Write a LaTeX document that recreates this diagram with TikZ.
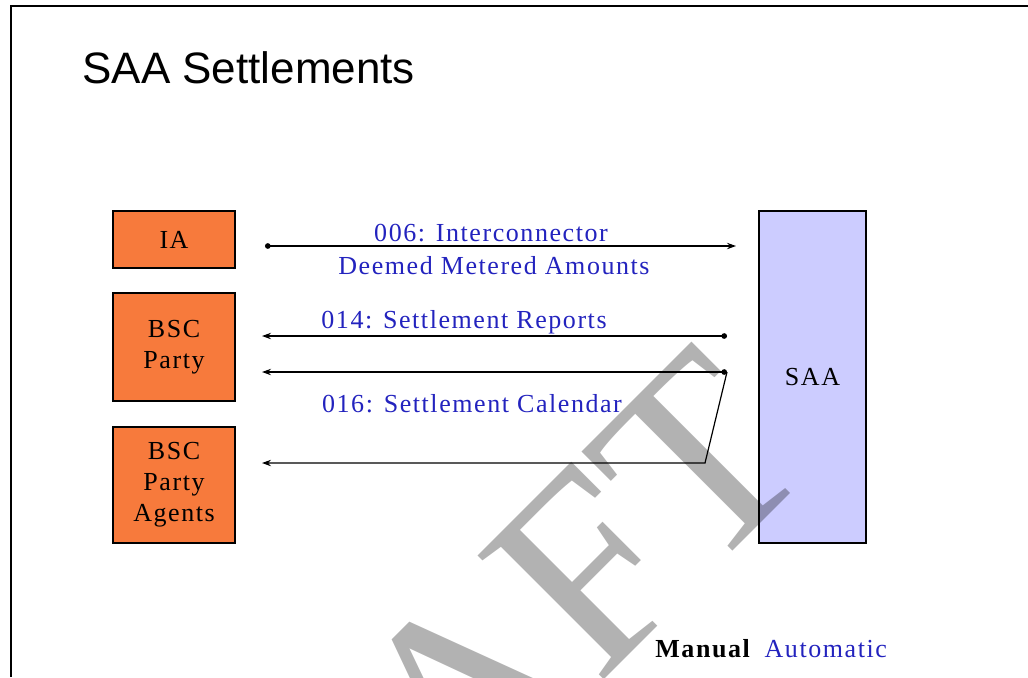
\documentclass[tikz,border=0pt]{standalone}
\usepackage{fontspec}
\setmainfont{Liberation Serif}[LetterSpace=6]
\newfontfamily\titlefont{Liberation Sans}
\newfontfamily\markfont{Liberation Serif}
\usepackage{xcolor}
\usetikzlibrary{positioning,arrows.meta}
\definecolor{partyorange}{RGB}{247,122,60}
\definecolor{saalilac}{RGB}{204,204,255}
\definecolor{flowblue}{RGB}{35,35,190}

\begin{document}
\begin{tikzpicture}[x=0.5pt, y=-0.5pt, >={Stealth[length=4.5pt,width=3.2pt]},
  box/.style={draw, line width=0.75pt, align=center, inner sep=0pt,
    font=\fontsize{13}{15.5}\selectfont},
  party/.style={box, fill=partyorange, minimum width=61pt},
  flow/.style={line width=0.6pt},
  flow label/.style={anchor=base, inner sep=0pt, text=flowblue,
    font=\fontsize{13}{15.5}\selectfont}]

\useasboundingbox (0,0) rectangle (1028,677);
\clip (0,0) rectangle (1028,677);

% frame and title
\draw [line width=1.25pt] (11,677) -- (11,6) -- (1028,6);
\node [anchor=base west, inner sep=0pt, font=\titlefont\fontsize{22}{26}\selectfont]
  (title) at (82,83) {SAA Settlements};

% parties
\node [party, minimum height=28.5pt] (ia) at (174,239.5) {IA};
\node [party, minimum height=54pt] (bsc) at (174,347) {BSC\\Party};
\node [party, minimum height=58pt] (agents) at (174,485) {BSC\\Party\\Agents};
\node [box, fill=saalilac, minimum width=53.5pt, minimum height=166pt]
  (saa) at (812.5,377) {SAA};

% flow ends
\coordinate (ia-out) at (265,246);
\coordinate (saa-in) at (736,246);
\coordinate (rep-out) at (727,336);
\coordinate (rep-in) at (262,336);
\coordinate (cal-out) at (727,372);
\coordinate (cal-bsc) at (262,372);
\coordinate (cal-bend) at (705,463);
\coordinate (cal-agents) at (262,463);

\draw [flow, {Circle[length=2.8pt]}->] (ia-out) -- (saa-in);
\draw [flow, {Circle[length=2.8pt]}->] (rep-out) -- (rep-in);
\draw [flow, {Circle[length=2.8pt]}->] (cal-out) -- (cal-bsc);
\draw [flow, ->] (cal-out) -- (cal-bend) -- (cal-agents);

\node [flow label] (l006) at (491,241) {006: Interconnector};
\node [flow label] (ldeem) at (494,274) {Deemed Metered Amounts};
\node [flow label] (l014) at (464,328) {014: Settlement Reports};
\node [flow label] (l016) at (472,412) {016: Settlement Calendar};

% legend
\node [anchor=base west, inner sep=0pt, font=\bfseries\fontsize{13}{15.5}\selectfont]
  (manual) at (655,657) {Manual};
\node [flow label, right=7pt of manual.base east, anchor=base west] (automatic) {Automatic};

% watermark
\node [anchor=base, inner sep=0pt, rotate=45, opacity=0.3,
  font=\markfont\fontsize{135}{135}\selectfont] (draft) at (507,777) {DRAFT};
\end{tikzpicture}
\end{document}
